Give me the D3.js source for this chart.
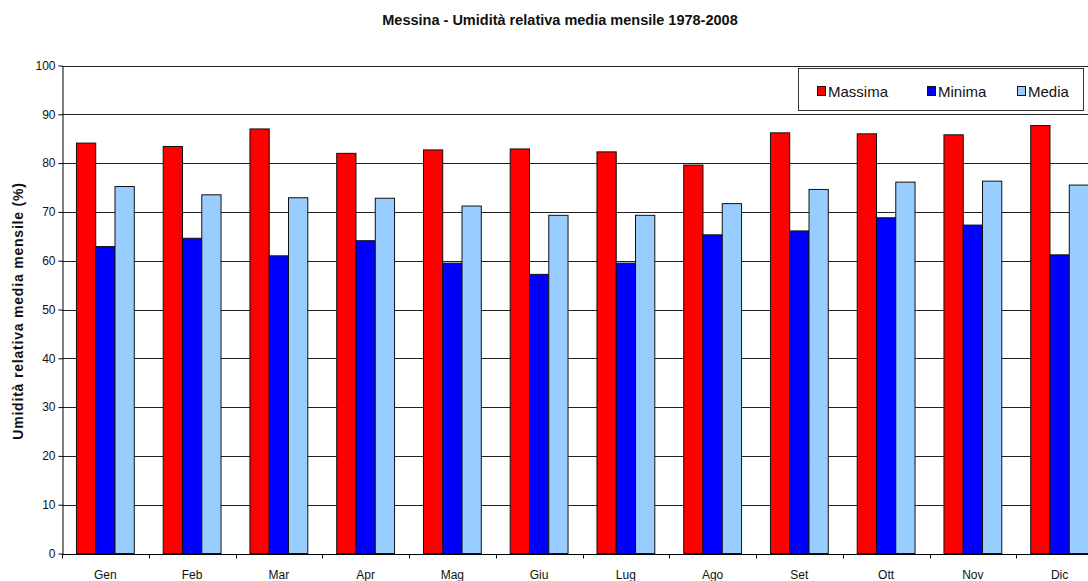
<!DOCTYPE html>
<html>
<head>
<meta charset="utf-8">
<script src="https://cdn.jsdelivr.net/npm/d3@7"></script>
<style>
  body { margin: 0; background: #fff; }
  svg { display: block; font-family: "Liberation Sans", Arial, sans-serif; }
</style>
</head>
<body>
<svg id="chart" width="1088" height="581"></svg>
<script>
// dati
const mesi = ["Gen", "Feb", "Mar", "Apr", "Mag", "Giu", "Lug", "Ago", "Set", "Ott", "Nov", "Dic"];
const serie = ["Massima", "Minima", "Media"];
const massima = [84.1, 83.4, 87.0, 82.0, 82.7, 82.9, 82.3, 79.6, 86.2, 86.0, 85.8, 87.7];
const minima = [62.9, 64.6, 61.0, 64.1, 59.5, 57.2, 59.5, 65.3, 66.1, 68.8, 67.3, 61.2];
const media = [75.2, 73.5, 72.9, 72.8, 71.2, 69.3, 69.3, 71.7, 74.6, 76.1, 76.3, 75.5];
const yTicks = [0, 10, 20, 30, 40, 50, 60, 70, 80, 90, 100];
const colori = ["#ff0000", "#0000ff", "#99ccff"];

const valori = [massima, minima, media];
let dati = mesi.map((m, i) => ({ mese: m, vals: serie.map((s, j) => ({ s: s, v: valori[j][i] })) }));

let svg = d3.select("#chart");

// area del grafico (a destra viene tagliata come nell'originale)
let x0 = d3.scaleBand().domain(mesi).range([62, 1103]).padding(0);
let x1 = d3.scaleBand().domain(serie).range([0, x0.bandwidth()]).paddingInner(0).paddingOuter(0.75);
let y = d3.scaleLinear().domain([0, 100]).range([553.5, 65.5]);
let colore = d3.scaleOrdinal().domain(serie).range(colori);

// griglia
svg.append("g")
  .selectAll("line")
  .data(yTicks.filter(d => d > 0))
  .enter()
  .append("line")
  .attr("x1", 62).attr("x2", 1088)
  .attr("y1", d => Math.round(y(d)) + 0.5).attr("y2", d => Math.round(y(d)) + 0.5)
  .attr("stroke", "#222").attr("stroke-width", 1);

// barre
svg.append("g")
  .selectAll("g")
  .data(dati)
  .enter()
  .append("g")
  .attr("transform", d => "translate(" + x0(d.mese) + ",0)")
  .selectAll("rect")
  .data(d => d.vals)
  .enter()
  .append("rect")
  .attr("x", d => x1(d.s))
  .attr("y", d => y(d.v))
  .attr("width", x1.bandwidth())
  .attr("height", d => y(0) - y(d.v))
  .attr("fill", d => colore(d.s))
  .attr("stroke", "#111")
  .attr("stroke-width", 1);

// asse y
let yAxis = svg.append("g")
  .attr("transform", "translate(62.5,0)")
  .call(d3.axisLeft(y).tickValues(yTicks).tickSize(4).tickPadding(3).tickSizeOuter(0));
yAxis.select(".domain").attr("stroke", "#000");
yAxis.selectAll("line").attr("stroke", "#000");
yAxis.selectAll("text").attr("font-size", 12).attr("fill", "#111")
  .attr("font-family", "Liberation Sans, Arial, sans-serif");

// asse x: tacche ai confini dei mesi
let xAxis = svg.append("g").attr("transform", "translate(0," + (Math.round(y(0)) + 0.5) + ")");
xAxis.append("line").attr("x1", 62).attr("x2", 1088).attr("stroke", "#000");
xAxis.selectAll(".tick")
  .data(mesi)
  .enter()
  .append("line")
  .attr("x1", d => Math.round(x0(d)) + 0.5).attr("x2", d => Math.round(x0(d)) + 0.5)
  .attr("y1", 0).attr("y2", 4)
  .attr("stroke", "#000");
xAxis.selectAll(".lab")
  .data(mesi)
  .enter()
  .append("text")
  .attr("x", d => x0(d) + x0.bandwidth() / 2)
  .attr("y", 24.5)
  .attr("text-anchor", "middle")
  .attr("font-size", 12)
  .attr("fill", "#111")
  .text(d => d);

// titolo
svg.append("text")
  .attr("x", 560).attr("y", 25)
  .attr("text-anchor", "middle")
  .attr("font-size", 14.5).attr("font-weight", "bold")
  .attr("fill", "#111")
  .text("Messina - Umidità relativa media mensile 1978-2008");

// titolo asse y
svg.append("text")
  .attr("transform", "translate(23,311) rotate(-90)")
  .attr("text-anchor", "middle")
  .attr("font-size", 14).attr("font-weight", "bold")
  .attr("letter-spacing", 0.8)
  .attr("fill", "#111")
  .text("Umidità relativa media mensile (%)");

// legenda
let leg = svg.append("g");
leg.append("rect")
  .attr("x", 798.5).attr("y", 68.5).attr("width", 285).attr("height", 42)
  .attr("fill", "#fff").attr("stroke", "#333");
let legX = [817, 927, 1017];
let voci = leg.selectAll(".voce")
  .data(serie)
  .enter()
  .append("g")
  .attr("transform", (d, i) => "translate(" + legX[i] + ",86)");
voci.append("rect")
  .attr("x", 0.5).attr("y", 0.5).attr("width", 8).attr("height", 9)
  .attr("fill", d => colore(d)).attr("stroke", "#111");
voci.append("text")
  .attr("x", 11).attr("y", 10.5)
  .attr("font-size", 15).attr("fill", "#111")
  .text(d => d);
</script>
</body>
</html>
